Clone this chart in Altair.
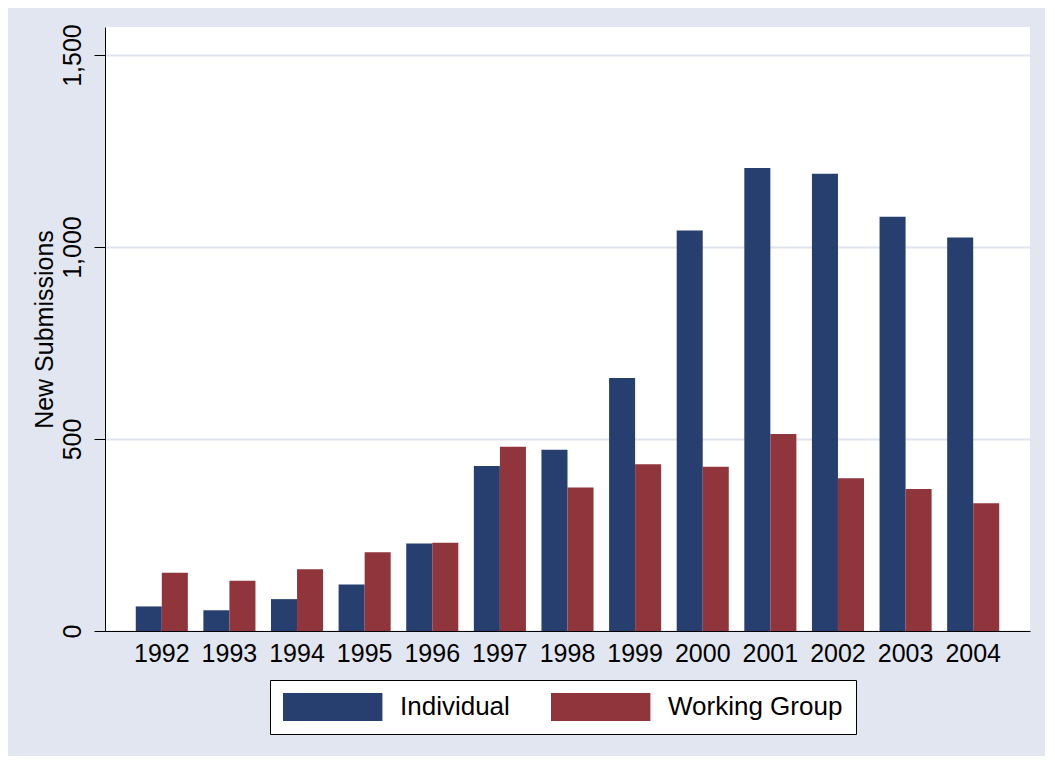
import altair as alt
import pandas as pd

years = ["1992", "1993", "1994", "1995", "1996", "1997", "1998", "1999",
         "2000", "2001", "2002", "2003", "2004"]
individual = [64, 54, 83, 121, 228, 430, 472, 659, 1043, 1206, 1191, 1079, 1025]
working_group = [152, 131, 161, 205, 230, 480, 374, 434, 428, 513, 398, 370, 333]
series = ["Individual", "Working Group"]
colors = ["#263F6E", "#90353B"]

rows = []
for i, y in enumerate(years):
    rows.append({"year": y, "series": series[0], "value": individual[i]})
    rows.append({"year": y, "series": series[1], "value": working_group[i]})
df = pd.DataFrame(rows)

FONT = "Liberation Sans"

chart = alt.Chart(df).mark_bar().encode(
    x=alt.X("year:N", sort=years,
            scale=alt.Scale(paddingInner=0.23, paddingOuter=0.455),
            axis=alt.Axis(title=None, labelAngle=0, labelFontSize=25, labelFont=FONT,
                          labelColor="black", ticks=False, labelPadding=30,
                          labelBaseline="alphabetic",
                          domainColor="black", domainWidth=1, grid=False)),
    xOffset=alt.XOffset("series:N", sort=series, scale=alt.Scale(paddingInner=0, paddingOuter=0)),
    y=alt.Y("value:Q", scale=alt.Scale(domain=[0, 1573], nice=False),
            axis=alt.Axis(title="New Submissions", values=[0, 500, 1000, 1500], format=",.0f",
                          labelAngle=270, labelAlign="center", labelBaseline="alphabetic",
                          labelFontSize=25, labelFont=FONT, labelColor="black",
                          tickSize=11, tickColor="black", tickWidth=1, labelPadding=14,
                          domainColor="black", domainWidth=1,
                          grid=True, gridColor="#DFE4EE", gridWidth=2,
                          titleFont=FONT, titleFontSize=25, titleFontWeight="normal",
                          titleColor="black", titleAngle=270, titleBaseline="alphabetic",
                          titleAlign="center", titleX=-53, titleY=302)),
    color=alt.Color("series:N", sort=series,
                    scale=alt.Scale(domain=series, range=colors),
                    legend=alt.Legend(title=None, orient="none", direction="horizontal",
                                      legendX=165, legendY=653,
                                      symbolType="M-1,-1H6.1V1H-1Z", symbolSize=784,
                                      symbolStrokeWidth=0, symbolOpacity=1,
                                      labelFontSize=26, labelFont=FONT, labelColor="black",
                                      labelLimit=400,
                                      labelOffset=89, columnPadding=41, padding=13,
                                      strokeColor="black", fillColor="white")),
).properties(
    width=925,
    height=604,
    background="#E2E6F0",
    padding={"left": 97, "top": 19, "right": 15, "bottom": 125},
    autosize=alt.AutoSizeParams(type="none"),
).configure_view(
    fill="white", strokeWidth=0
)

chart.save("out.html", embed_options={"renderer": "svg", "actions": False})
